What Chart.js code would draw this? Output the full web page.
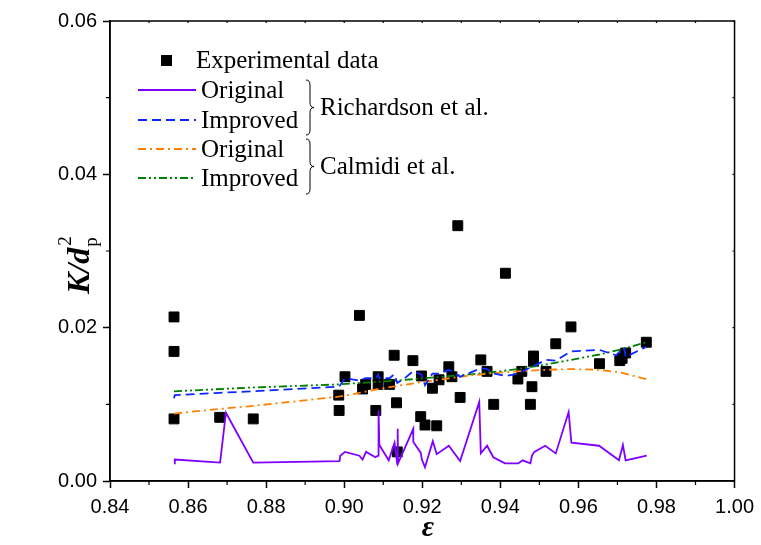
<!DOCTYPE html>
<html lang="en">
<head>
<meta charset="UTF-8">
<title>K/dp2 vs porosity</title>
<script src="https://cdn.jsdelivr.net/npm/chart.js"></script>
<style>
  body { margin: 0; background: #fff; }
  #wrap { width: 761px; height: 545px; }
</style>
</head>
<body>
<div id="wrap"><canvas id="chart" width="761" height="545"></canvas></div>
<script>
// experimental data (porosity, K/dp^2)
const expEps = [0.8564, 0.8564, 0.8564, 0.8681, 0.8767, 0.8986, 0.8987, 0.9002, 0.9039, 0.9047,
  0.9055, 0.9081, 0.9087, 0.9087, 0.9116, 0.9128, 0.9134, 0.9136, 0.9176, 0.9196,
  0.9198, 0.9207, 0.9226, 0.9237, 0.9243, 0.9268, 0.9276, 0.9291, 0.9297, 0.9350,
  0.9366, 0.9383, 0.9413, 0.9445, 0.9455, 0.9477, 0.9481, 0.9485, 0.9485, 0.9517,
  0.9542, 0.9581, 0.9654, 0.9706, 0.9712, 0.9721, 0.9774];
const expK = [0.0214, 0.0169, 0.0081, 0.0083, 0.0081, 0.0112, 0.0092, 0.0136, 0.0216, 0.0120,
  0.0126, 0.0092, 0.0136, 0.0126, 0.0126, 0.0164, 0.0102, 0.0038, 0.0157, 0.0084,
  0.0137, 0.0073, 0.0121, 0.0072, 0.0132, 0.0149, 0.0136, 0.0333, 0.0109, 0.0158,
  0.0143, 0.0100, 0.0271, 0.0133, 0.0143, 0.0100, 0.0123, 0.0163, 0.0156, 0.0143,
  0.0179, 0.0201, 0.0153, 0.0157, 0.0160, 0.0167, 0.0181];

// Richardson et al. - original
const richOrigEps = [0.8564, 0.8566, 0.8682, 0.8697, 0.8767, 0.8988, 0.8990, 0.9002, 0.9039, 0.9047,
  0.9056, 0.9080, 0.9087, 0.9088, 0.9090, 0.9114, 0.9129, 0.9136, 0.9137, 0.9138,
  0.9177, 0.9177, 0.9196, 0.9199, 0.9207, 0.9227, 0.9237, 0.9268, 0.9297, 0.9346,
  0.9350, 0.9366, 0.9382, 0.9412, 0.9446, 0.9457, 0.9477, 0.9481, 0.9487, 0.9515,
  0.9542, 0.9575, 0.9582, 0.9653, 0.9704, 0.9714, 0.9721, 0.9775];
const richOrigK = [0.0023, 0.0028, 0.0024, 0.0089, 0.0024, 0.0026, 0.0033, 0.0038, 0.0033, 0.0028,
  0.0038, 0.0031, 0.0033, 0.0092, 0.0047, 0.0027, 0.0050, 0.0022, 0.0068, 0.0023,
  0.0068, 0.0051, 0.0037, 0.0028, 0.0018, 0.0052, 0.0035, 0.0046, 0.0026, 0.0103,
  0.0036, 0.0046, 0.0031, 0.0023, 0.0023, 0.0027, 0.0023, 0.0033, 0.0038, 0.0046,
  0.0036, 0.0090, 0.0050, 0.0046, 0.0027, 0.0047, 0.0027, 0.0033];

// Richardson et al. - improved
const richImpEps = [0.8564, 0.8566, 0.8681, 0.8767, 0.8986, 0.8988, 0.9002, 0.9039, 0.9047, 0.9055,
  0.9081, 0.9087, 0.9090, 0.9116, 0.9128, 0.9136, 0.9155, 0.9176, 0.9198, 0.9207,
  0.9226, 0.9243, 0.9268, 0.9285, 0.9297, 0.9350, 0.9366, 0.9383, 0.9413, 0.9445,
  0.9481, 0.9517, 0.9542, 0.9581, 0.9654, 0.9697, 0.9706, 0.9712, 0.9718, 0.9721, 0.9774];
const richImpK = [0.0108, 0.0112, 0.0115, 0.0117, 0.0123, 0.0124, 0.0134, 0.0131, 0.0133, 0.0134,
  0.0134, 0.0139, 0.0134, 0.0134, 0.0139, 0.0128, 0.0134, 0.0143, 0.0139, 0.0125,
  0.0140, 0.0140, 0.0145, 0.0140, 0.0136, 0.0147, 0.0146, 0.0140, 0.0137, 0.0140,
  0.0149, 0.0158, 0.0157, 0.0169, 0.0171, 0.0164, 0.0169, 0.0167, 0.0172, 0.0162, 0.0175];

// Calmidi et al. - original
const calOrigEps = [0.8564, 0.8681, 0.8767, 0.8986, 0.9039, 0.9087, 0.9136, 0.9198, 0.9243, 0.9297,
  0.9366, 0.9445, 0.9517, 0.9581, 0.9654, 0.9712, 0.9774];
const calOrigK = [0.0088, 0.0094, 0.0098, 0.0110, 0.0115, 0.0120, 0.0124, 0.0129, 0.0132, 0.0136,
  0.0140, 0.0143, 0.0145, 0.0146, 0.0145, 0.0141, 0.0133];

// Calmidi et al. - improved
const calImpEps = [0.8564, 0.8767, 0.8986, 0.9136, 0.9297, 0.9366, 0.9445, 0.9517, 0.9581, 0.9654,
  0.9712, 0.9774];
const calImpK = [0.0117, 0.0122, 0.0126, 0.0131, 0.0138, 0.0141, 0.0146, 0.0152, 0.0158, 0.0165,
  0.0172, 0.0181];

const legendLabels = ['Experimental data', 'Original', 'Improved', 'Original', 'Improved'];
const groupLabels = ['Richardson et al.', 'Calmidi et al.'];

const pts = (xs, ys) => xs.map((x, i) => ({ x: x, y: ys[i] }));
const isMajor = v => Math.round(v * 100) % 2 === 0;

const serif = '"Liberation Serif", "Times New Roman", serif';

const lineStyles = [
  { color: '#8000ff', dash: [] },
  { color: '#0a28ff', dash: [9, 5] },
  { color: '#ff8000', dash: [8, 4, 2, 4] },
  { color: '#008000', dash: [8, 3, 2, 3, 2, 3] }
];

function brace(ctx, x, top, bottom, w) {
  const mid = (top + bottom) / 2, r = 5, h = w / 2;
  ctx.beginPath();
  ctx.moveTo(x, top);
  ctx.quadraticCurveTo(x + h, top, x + h, top + r);
  ctx.lineTo(x + h, mid - r);
  ctx.quadraticCurveTo(x + h, mid, x + w, mid);
  ctx.quadraticCurveTo(x + h, mid, x + h, mid + r);
  ctx.lineTo(x + h, bottom - r);
  ctx.quadraticCurveTo(x + h, bottom, x, bottom);
  ctx.stroke();
}

const extras = {
  id: 'extras',
  afterDraw(chart) {
    const ctx = chart.ctx;
    const a = chart.chartArea;
    const xs = chart.scales.x, ys = chart.scales.y;
    ctx.save();
    // frame
    ctx.strokeStyle = '#000';
    ctx.lineWidth = 1.5;
    ctx.strokeRect(a.left, a.top, a.right - a.left, a.bottom - a.top);
    // minor ticks + small inner ticks on top/right
    ctx.lineWidth = 1.2;
    ctx.beginPath();
    xs.ticks.forEach(t => {
      const px = xs.getPixelForValue(t.value);
      if (!isMajor(t.value)) { ctx.moveTo(px, a.bottom); ctx.lineTo(px, a.bottom + 4); }
      ctx.moveTo(px, a.top); ctx.lineTo(px, a.top + 2);
    });
    ys.ticks.forEach(t => {
      const py = ys.getPixelForValue(t.value);
      if (!isMajor(t.value)) { ctx.moveTo(a.left, py); ctx.lineTo(a.left - 4, py); }
      ctx.moveTo(a.right, py); ctx.lineTo(a.right - 2, py);
    });
    ctx.stroke();

    // legend
    ctx.fillStyle = '#000';
    ctx.font = '25px ' + serif;
    ctx.textBaseline = 'middle';
    ctx.fillRect(161, 55, 11, 11);
    ctx.fillText(legendLabels[0], 196, 61);
    const rows = [90, 120, 149, 178];
    rows.forEach((y, i) => {
      ctx.strokeStyle = lineStyles[i].color;
      ctx.setLineDash(lineStyles[i].dash);
      ctx.lineWidth = 1.8;
      ctx.beginPath();
      ctx.moveTo(138, y); ctx.lineTo(196, y);
      ctx.stroke();
      ctx.setLineDash([]);
      ctx.fillStyle = '#000';
      ctx.fillText(legendLabels[i + 1], 201, y + 1);
    });
    ctx.strokeStyle = '#000';
    ctx.lineWidth = 1;
    brace(ctx, 306, 80, 135, 8);
    brace(ctx, 306, 139, 194, 8);
    ctx.fillText(groupLabels[0], 320, 108);
    ctx.fillText(groupLabels[1], 320, 167);

    // x title
    ctx.textAlign = 'center';
    ctx.font = 'bold italic 30px ' + serif;
    ctx.fillText('\u03b5', 428, 528);

    // y title
    ctx.translate(89, 294);
    ctx.rotate(-Math.PI / 2);
    ctx.textAlign = 'left';
    ctx.textBaseline = 'alphabetic';
    ctx.font = 'bold italic 32px ' + serif;
    ctx.fillText('K/d', 0, 0);
    const w = ctx.measureText('K/d').width;
    ctx.font = '19px ' + serif;
    ctx.fillText('2', w + 2, -18);
    ctx.fillText('p', w + 1, 8);
    ctx.restore();
  }
};

const lineSets = [
  pts(richOrigEps, richOrigK),
  pts(richImpEps, richImpK),
  pts(calOrigEps, calOrigK),
  pts(calImpEps, calImpK)
];

new Chart(document.getElementById('chart'), {
  type: 'scatter',
  data: {
    datasets: [
      ...lineSets.map((d, i) => ({
        data: d,
        showLine: true,
        borderColor: lineStyles[i].color,
        borderDash: lineStyles[i].dash,
        borderWidth: 1.8,
        pointRadius: 0,
        fill: false,
        tension: 0,
        order: 1
      })),
      {
        data: pts(expEps, expK),
        pointStyle: 'rect',
        pointRadius: 7,
        backgroundColor: '#000',
        borderColor: '#000',
        borderWidth: 1,
        order: 5
      }
    ]
  },
  options: {
    responsive: false,
    animation: false,
    layout: { padding: { top: 21, right: 18, left: 0, bottom: 0 } },
    plugins: { legend: { display: false }, tooltip: { enabled: false } },
    scales: {
      x: {
        type: 'linear', min: 0.84, max: 1.0,
        ticks: {
          stepSize: 0.01, autoSkip: false, maxRotation: 0, padding: 7, color: '#000',
          font: { family: '"Liberation Sans", Arial, sans-serif', size: 20 },
          callback: v => isMajor(v) ? v.toFixed(2) : ''
        },
        grid: {
          drawOnChartArea: false, tickLength: 7, tickWidth: 1.5,
          tickColor: c => isMajor(c.tick.value) ? '#000' : 'rgba(0,0,0,0)'
        },
        border: { color: '#000', width: 1.5 },
        afterFit: s => { s.height = 64; }
      },
      y: {
        type: 'linear', min: 0, max: 0.06,
        ticks: {
          stepSize: 0.01, autoSkip: false, padding: 6, color: '#000',
          font: { family: '"Liberation Sans", Arial, sans-serif', size: 20 },
          callback: v => isMajor(v) ? v.toFixed(2) : ''
        },
        grid: {
          drawOnChartArea: false, tickLength: 7, tickWidth: 1.5,
          tickColor: c => isMajor(c.tick.value) ? '#000' : 'rgba(0,0,0,0)'
        },
        border: { color: '#000', width: 1.5 },
        afterFit: s => { s.width = 110; }
      }
    }
  },
  plugins: [extras]
});
</script>
</body>
</html>
